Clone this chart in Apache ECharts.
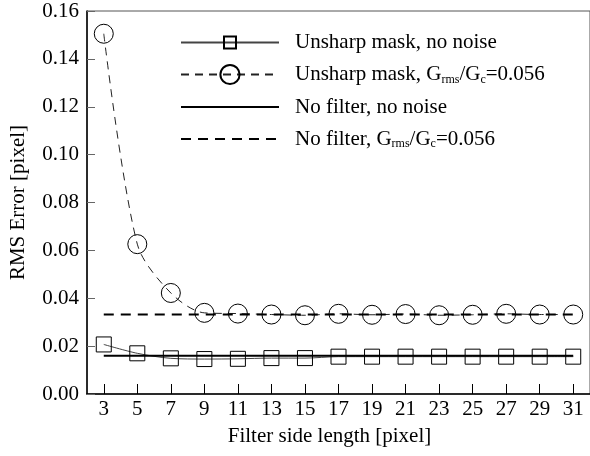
<!DOCTYPE html>
<html><head><meta charset="utf-8">
<script src="https://cdn.jsdelivr.net/npm/echarts@6/dist/echarts.min.js"></script>
<style>html,body{margin:0;padding:0;background:#fff}#c{width:590px;height:456px}</style>
</head><body><div id="c"></div>
<script>
const filterSizes = [3,5,7,9,11,13,15,17,19,21,23,25,27,29,31];
const unsharpNoNoise = [0.0207,0.0170,0.0149,0.0146,0.0147,0.0150,0.0150,0.0156,0.0156,0.0156,0.0156,0.0156,0.0156,0.0156,0.0156];
const unsharpNoise = [0.1505,0.0626,0.0422,0.0339,0.0336,0.0332,0.0329,0.0335,0.0331,0.0334,0.0329,0.0331,0.0335,0.0332,0.0332];
const noFilterNoNoise = 0.0160;
const noFilterNoise = 0.0332;
const yTicks = [0,0.02,0.04,0.06,0.08,0.10,0.12,0.14,0.16];
const seriesNames = ['Unsharp mask, no noise','Unsharp mask, noise','No filter, no noise','No filter, noise'];

const font = 'Liberation Serif';
const fs = 21;
const pairs = a => filterSizes.map((x,i)=>[x, a[i]]);
const constLine = v => filterSizes.map(x=>[x, v]);
const rich = {
  n:{fontFamily:font,fontSize:fs,color:'#000',lineHeight:24},
  s:{fontFamily:font,fontSize:12,color:'#000',lineHeight:24,padding:[10,0,0,0]}
};
const legendTexts = {
  'Unsharp mask, no noise':'{n|Unsharp mask, no noise}',
  'Unsharp mask, noise':'{n|Unsharp mask, G}{s|rms}{n|/G}{s|c}{n|=0.056}',
  'No filter, no noise':'{n|No filter, no noise}',
  'No filter, noise':'{n|No filter, G}{s|rms}{n|/G}{s|c}{n|=0.056}'
};
const legendTops = [44, 75.5, 108.5, 140];
const legendH = [15, 24, 14, 14];
const hideSym = [false, false, true, true];
const legends = seriesNames.map((nm,i)=>({
  data:[nm], left:180, top: legendTops[i]-12, padding:0, itemWidth:98, itemHeight:legendH[i],
  itemGap:0, formatter: n=>legendTexts[n], textStyle:{rich, padding:[0,0,0,11]}, selectedMode:false,
  itemStyle: hideSym[i] ? {color:'rgba(0,0,0,0)', borderColor:'rgba(0,0,0,0)', borderWidth:0} : {color:'rgba(255,255,255,0)'}
}));

const chart = echarts.init(document.getElementById('c'), null, {renderer:'canvas'});
chart.setOption({
  animation:false,
  backgroundColor:'#fff',
  legend: legends,
  grid:{left:86, top:11, bottom:62, right:-2, show:true, borderColor:'#555', borderWidth:1, backgroundColor:'transparent', containLabel:false},
  xAxis:{
    type:'value', min:2, max:32,
    name:'Filter side length [pixel]', nameLocation:'middle', nameGap:32,
    nameTextStyle:{fontFamily:font, fontSize:fs, color:'#000', padding:[0,18,0,0]},
    axisLine:{lineStyle:{color:'#000', width:1.5}},
    axisTick:{inside:true, length:10, lineStyle:{color:'#000'}, customValues:filterSizes},
    axisLabel:{fontFamily:font, fontSize:fs, color:'#000', margin:5, customValues:filterSizes},
    splitLine:{show:false}
  },
  yAxis:{
    type:'value', min:0, max:0.16, interval:0.02,
    name:'RMS Error [pixel]', nameLocation:'middle', nameGap:58,
    nameTextStyle:{fontFamily:font, fontSize:fs, color:'#000'},
    axisLine:{show:true, lineStyle:{color:'#000', width:1.5}},
    axisTick:{inside:true, length:8, lineStyle:{color:'#666'}},
    axisLabel:{fontFamily:font, fontSize:fs, color:'#000', margin:8, formatter:v=>v.toFixed(2)},
    splitLine:{show:false}
  },
  series:[
    {name:seriesNames[0], type:'line', data:pairs(unsharpNoNoise), smooth:0.3,
     symbol:'rect', symbolSize:15,
     itemStyle:{color:'rgba(255,255,255,0)', borderColor:'#000', borderWidth:1},
     lineStyle:{color:'#444', width:1}},
    {name:seriesNames[1], type:'line', data:pairs(unsharpNoise), smooth:0.3,
     symbol:'circle', symbolSize:19,
     itemStyle:{color:'rgba(255,255,255,0)', borderColor:'#000', borderWidth:1},
     lineStyle:{color:'#222', width:1, type:[8,6]}},
    {name:seriesNames[2], type:'line', data:constLine(noFilterNoNoise), symbol:'none',
     lineStyle:{color:'#000', width:2}},
    {name:seriesNames[3], type:'line', data:constLine(noFilterNoise), symbol:'none',
     lineStyle:{color:'#000', width:2, type:[10,7]}}
  ]
});
</script></body></html>
